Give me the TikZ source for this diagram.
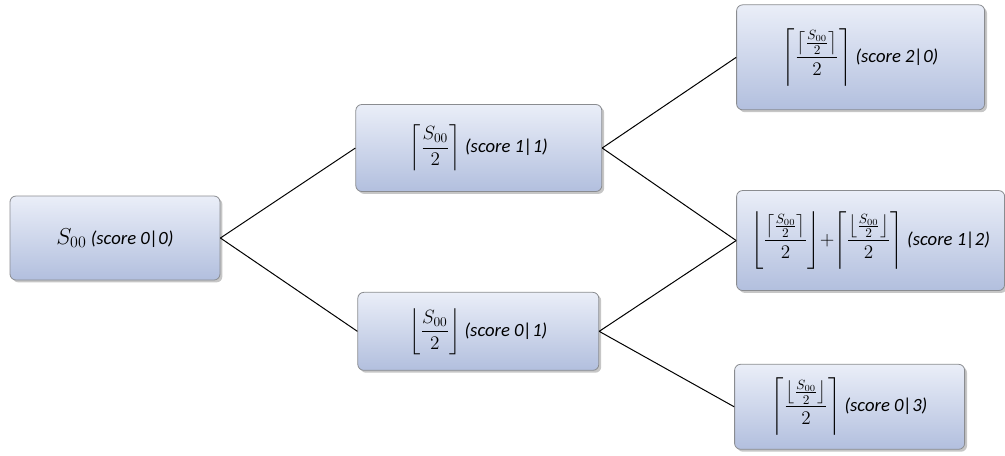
\documentclass[tikz,border=0pt]{standalone}
\usepackage{amsmath}
\usepackage{fontspec}
\setmainfont{Carlito}
\usetikzlibrary{positioning,shadows}

\definecolor{boxtop}{HTML}{EAEEF8}
\definecolor{boxbot}{HTML}{B2BFDE}
\definecolor{boxline}{HTML}{8A8C90}

\begin{document}
\begin{tikzpicture}[state/.style={rectangle, rounded corners=4.5pt, draw=boxline, line width=0.6pt,
        top color=boxtop, bottom color=boxbot,
        drop shadow={opacity=0.45, shadow xshift=1.8pt, shadow yshift=-1.8pt},
        font=\fontsize{14}{16}\selectfont\itshape, inner sep=2pt}]
    \useasboundingbox (0,0) rectangle (753.75pt,-341.25pt);

    % Nodes
    \node[state, minimum width=157.5pt, minimum height=63pt] (root) at (86.25pt,-178.5pt)
        {{\fontsize{17}{20}\selectfont$S_{00}$} (score 0|0)};

    \node[state, minimum width=184.5pt, minimum height=65.25pt] (up) [right=101.25pt of root, yshift=67.5pt]
        {$\left\lceil\dfrac{S_{00}}{2}\right\rceil$ (score 1|1)};
    \node[state, minimum width=180.75pt, minimum height=58.5pt] (down) [right=102.75pt of root, yshift=-70pt]
        {$\left\lfloor\dfrac{S_{00}}{2}\right\rfloor$ (score 0|1)};

    \node[state, minimum width=186pt, minimum height=78.75pt] (upup) [right=100.5pt of up, yshift=68pt]
        {$\left\lceil\dfrac{\left\lceil\frac{S_{00}}{2}\right\rceil}{2}\right\rceil$ (score 2|0)};
    \node[state, minimum width=201pt, minimum height=75pt] (mid) [right=100.5pt of up, yshift=-69.4pt]
        {$\left\lfloor\dfrac{\left\lceil\frac{S_{00}}{2}\right\rceil}{2}\right\rfloor
          \!{+}\!\left\lceil\dfrac{\left\lfloor\frac{S_{00}}{2}\right\rfloor}{2}\right\rceil$ (score 1|2)};
    \node[state, minimum width=172.5pt, minimum height=63.75pt] (downdown) [right=101.25pt of down, yshift=-56.6pt]
        {$\left\lceil\dfrac{\left\lfloor\frac{S_{00}}{2}\right\rfloor}{2}\right\rceil$ (score 0|3)};

    % Lines
    \draw[line width=0.75pt] (root.east) -- (up.west);
    \draw[line width=0.75pt] (root.east) -- (down.west);

    \draw[line width=0.75pt] (up.east) -- (upup.west);
    \draw[line width=0.75pt] (up.east) -- (mid.west);
    \draw[line width=0.75pt] (down.east) -- (mid.west);
    \draw[line width=0.75pt] (down.east) -- (downdown.west);
\end{tikzpicture}
\end{document}
